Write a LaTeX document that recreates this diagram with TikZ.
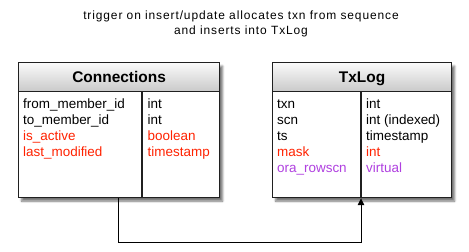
\documentclass[tikz,border=0pt]{standalone}
\usepackage{fontspec}
\setmainfont{Liberation Sans}
\usetikzlibrary{shadows.blur,arrows.meta,calc}
\definecolor{fkred}{HTML}{FF2200}
\definecolor{vpurple}{HTML}{B040E0}
\definecolor{edge}{HTML}{202020}
\tikzset{
  tblframe/.style={draw=edge, line width=1.2bp, fill=white, inner sep=0pt,
    anchor=north west,
    blur shadow={shadow xshift=3bp, shadow yshift=-3.5bp,
      shadow blur steps=6, shadow opacity=55}},
  tblhead/.style={draw=edge, line width=1.2bp, top color=gray!4,
    bottom color=gray!42, inner sep=0pt, anchor=north west,
    text height=11.1bp, text depth=0pt,
    font=\fontsize{15.5}{18}\selectfont\bfseries},
  tblrule/.style={draw=edge, line width=1.2bp},
  cell/.style={anchor=base west, inner sep=0pt,
    font=\fontsize{13.5}{16}\selectfont},
  caption/.style={anchor=base, inner sep=0pt,
    font=\fontsize{12}{15}\selectfont\addfontfeature{LetterSpace=7.5}},
  link/.style={draw=black, line width=0.9bp,
    -{Triangle[length=7bp,width=6.5bp]}},
}
\begin{document}
\begin{tikzpicture}[x=1bp,y=-1bp]
  \useasboundingbox (0,0) rectangle (469,251);

  % caption above the tables
  \node[caption] (cap1) at (241,19) {trigger on insert/update allocates txn from sequence};
  \node[caption] (cap2) at (241,34) {and inserts into TxLog};

  % Connections table
  \node[tblframe, minimum width=201bp, minimum height=135bp] (connframe) at (18,62) {};
  \node[tblhead, minimum width=201bp, minimum height=29bp] (connhead) at (18,62) {Connections};
  \draw[tblrule] (connhead.south -| 142,0) -- (connframe.south -| 142,0);
  \foreach \n/\t/\c [count=\i] in {from\_member\_id/int/black,
      to\_member\_id/int/black, is\_active/boolean/fkred,
      last\_modified/timestamp/fkred}{
    \node[cell, text=\c] (conncol\i) at (23,{92+16*\i}) {\n};
    \node[cell, text=\c] (conntype\i) at (147.5,{92+16*\i}) {\t};
  }

  % TxLog table
  \node[tblframe, minimum width=179bp, minimum height=135bp] (txframe) at (272,62) {};
  \node[tblhead, minimum width=179bp, minimum height=29bp] (txhead) at (272,62) {TxLog};
  \draw[tblrule] (txhead.south -| 361,0) -- (txframe.south -| 361,0);
  \foreach \n/\t/\c [count=\i] in {txn/int/black, scn/int (indexed)/black,
      ts/timestamp/black, mask/int/fkred, ora\_rowscn/virtual/vpurple}{
    \node[cell, text=\c] (txcol\i) at (277,{92+16*\i}) {\n};
    \node[cell, text=\c] (txtype\i) at (366,{92+16*\i}) {\t};
  }

  % trigger link from Connections to TxLog
  \draw[link] (connframe.south -| 118,0) -- ++(0,44) -| (txframe.south -| 361,0);
\end{tikzpicture}
\end{document}
